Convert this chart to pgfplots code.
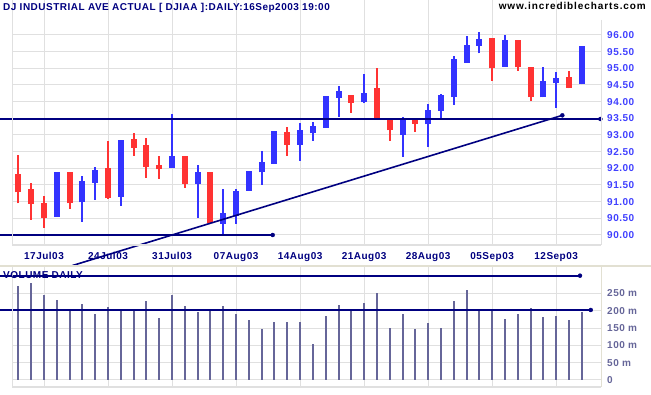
\documentclass[border=0pt]{standalone}
\usepackage{pgfplots}
\pgfplotsset{compat=1.18}
\usepackage{pgfplotstable}
\usepackage{fontspec}
\setmainfont{Liberation Sans}[LetterSpace=5]
\newfontfamily\wwwfont{Liberation Sans}[LetterSpace=9]
\definecolor{navy}{HTML}{000080}
\definecolor{cblue}{HTML}{3333FF}
\definecolor{cred}{HTML}{FF3333}
\definecolor{tickblue}{HTML}{4040FF}
\definecolor{volc}{HTML}{666699}
\definecolor{gridc}{HTML}{E0E0E0}
\definecolor{beige}{HTML}{E2E0D2}
\newcommand\lab{\fontsize{10bp}{12bp}\selectfont\bfseries}

% up days (close > open)
\pgfplotstableread{
i o h l c
3 90.55 91.89 90.55 91.89
5 90.98 91.77 90.40 91.63
6 91.57 92.04 91.05 91.96
8 91.15 92.85 90.88 92.85
12 92.02 93.63 92.02 92.38
14 91.53 92.10 90.52 91.90
16 90.33 91.38 90.00 90.65
17 90.58 91.38 90.34 91.33
18 91.33 91.92 91.33 91.92
19 91.88 92.52 91.51 92.20
20 92.13 93.12 92.13 93.12
22 92.70 93.36 92.23 93.14
23 93.05 93.39 92.83 93.27
24 93.22 94.17 93.22 94.17
25 94.11 94.47 93.55 94.33
27 93.98 94.83 93.95 94.25
30 93.01 93.53 92.35 93.46
32 93.32 93.93 92.65 93.75
33 93.72 94.23 93.48 94.20
34 94.13 95.37 93.91 95.27
35 95.17 95.97 95.17 95.70
36 95.68 96.09 95.45 95.88
38 95.05 96.00 95.05 95.85
41 94.13 95.03 94.13 94.62
42 94.55 94.88 93.82 94.70
44 94.52 95.68 94.52 95.68
}\upcandles

% down days (close < open)
\pgfplotstableread{
i o h l c
0 91.82 92.40 90.95 91.28
1 91.37 91.56 90.46 90.93
2 90.96 91.17 90.22 90.50
4 91.89 91.89 90.79 90.95
7 92.00 92.82 91.09 91.10
9 92.88 93.06 92.38 92.62
10 92.71 92.91 91.72 92.05
11 92.10 92.37 91.69 91.97
13 92.37 92.37 91.42 91.53
15 91.89 91.89 90.35 90.35
21 93.08 93.24 92.37 92.70
26 94.21 94.21 93.67 93.96
28 94.40 95.01 93.48 93.48
29 93.50 93.50 92.83 93.14
31 93.47 93.47 93.10 93.33
37 95.90 95.90 94.63 95.00
39 95.85 95.85 94.93 95.03
40 95.03 95.03 94.03 94.13
43 94.73 94.92 94.40 94.42
}\downcandles

% daily volume (millions)
\pgfplotstableread{
i v
0 271
1 281
2 246
3 231
4 206
5 220
6 190
7 211
8 202
9 206
10 228
11 179
12 246
13 213
14 196
15 202
16 213
17 190
18 173
19 147
20 168
21 168
22 168
23 104
24 185
25 216
26 206
27 223
28 251
29 150
30 190
31 147
32 164
33 150
34 228
35 260
36 206
37 202
38 176
39 190
40 208
41 182
42 185
43 173
44 196
}\volume

\pgfplotsset{
  candle/.style n args={2}{draw=none, mark=none,
    error bars/.cd, y dir=plus, y explicit, error mark=none,
    error bar style={line width=#2, draw=#1, solid}},
}

\begin{document}
\begin{tikzpicture}
\path[use as bounding box] (0,0) rectangle (651bp,395bp);
% price panel
\begin{axis}[
  at={(12bp,150bp)}, anchor=south west,
  scale only axis, width=589bp, height=245bp,
  xmin=-0.5, xmax=45.5, ymin=89.70, ymax=97.05,
  clip=false,
  axis line style={draw=none},
  tick style={draw=none},
  grid=major, major grid style={gridc, line width=1bp},
  xtick={2,7,12,17,22,27,32,37,42},
  xticklabels={17Jul03,24Jul03,31Jul03,07Aug03,14Aug03,21Aug03,28Aug03,05Sep03,12Sep03},
  xticklabel style={font=\lab, text=navy, anchor=base, inner sep=0pt, yshift=-14.3bp},
  ytick={90,90.5,91,91.5,92,92.5,93,93.5,94,94.5,95,95.5,96},
  yticklabel pos=right,
  yticklabel style={/pgf/number format/fixed, /pgf/number format/fixed zerofill,
    /pgf/number format/precision=2, /pgf/number format/assume math mode=true,
    font=\lab, text=tickblue, anchor=west, inner sep=0pt, xshift=6bp},
  after end axis/.code={
    \draw[gridc, line width=1bp] (rel axis cs:0,1) -- (rel axis cs:0,0);
    \draw[gridc, line width=1bp] (rel axis cs:1,0.92) -- (rel axis cs:1,0);
    \draw[gridc, line width=2bp] (rel axis cs:0,0) -- (rel axis cs:1,0);
  },
]
% wicks and bodies, up days
\addplot[candle={cblue}{2bp}]
  table[x=i, y=l, y error plus expr=\thisrow{h}-\thisrow{l}] {\upcandles};
\addplot[candle={cblue}{6bp}]
  table[x=i, y=o, y error plus expr=\thisrow{c}-\thisrow{o}] {\upcandles};
% wicks and bodies, down days
\addplot[candle={cred}{2bp}]
  table[x=i, y=l, y error plus expr=\thisrow{h}-\thisrow{l}] {\downcandles};
\addplot[candle={cred}{6bp}]
  table[x=i, y=c, y error plus expr=\thisrow{o}-\thisrow{c}] {\downcandles};
% support / trend lines
\addplot[navy, line width=2bp, mark=none] coordinates {(-1.44,93.48) (45.45,93.48)};
\addplot[navy, only marks, mark=*, mark size=2bp] coordinates {(45.45,93.48)};
\addplot[navy, line width=2bp, mark=none] coordinates {(-1.44,90.0) (19.86,90.0)};
\addplot[navy, only marks, mark=*, mark size=2bp] coordinates {(19.86,90.0)};
\addplot[navy, line width=1.6bp, mark=none] coordinates {(4.19,89.08) (42.48,93.59)};
\addplot[navy, only marks, mark=*, mark size=2bp] coordinates {(42.48,93.59)};
\end{axis}
% separator
\draw[beige, line width=2bp] (0,129bp) -- (651bp,129bp);
% volume panel
\begin{axis}[
  at={(12bp,8bp)}, anchor=south west,
  scale only axis, width=589bp, height=120bp,
  xmin=-0.5, xmax=45.5, ymin=-20.2, ymax=326,
  clip=false,
  axis line style={draw=none},
  tick style={draw=none},
  grid=major, major grid style={gridc, line width=1bp},
  xtick={2,7,12,17,22,27,32,37,42},
  xticklabels={},
  ytick={0,50,100,150,200,250},
  yticklabels={0,50 m,100 m,150 m,200 m,250 m},
  yticklabel pos=right,
  yticklabel style={font=\lab, text=volc, anchor=west, inner sep=0pt, xshift=6bp},
  after end axis/.code={
    \draw[gridc, line width=1bp] (rel axis cs:0,1) -- (rel axis cs:0,0);
    \draw[beige, line width=1bp] (rel axis cs:1,1) -- (rel axis cs:1,0);
    \draw[gridc, line width=2bp] (rel axis cs:0,0) -- (rel axis cs:1,0);
  },
]
\addplot[ycomb, volc, line width=2bp, mark=none] table[x=i, y=v] {\volume};
\addplot[navy, line width=2bp, mark=none] coordinates {(-1.44,301) (43.86,301)};
\addplot[navy, only marks, mark=*, mark size=2bp] coordinates {(43.86,301)};
\addplot[navy, line width=2bp, mark=none] coordinates {(-1.44,202) (44.70,202)};
\addplot[navy, only marks, mark=*, mark size=2bp] coordinates {(44.70,202)};
\end{axis}
% texts
\node[anchor=base west, inner sep=0pt, text=navy, font=\lab] at (3bp,384bp) {DJ INDUSTRIAL AVE ACTUAL [ DJIAA ]:DAILY:16Sep2003 19:00};
\node[anchor=base east, inner sep=0pt, text=black, font={\fontsize{10bp}{12bp}\selectfont\wwwfont\bfseries}] at (646bp,385bp) {www.incrediblecharts.com};
\node[anchor=base west, inner sep=0pt, text=navy, font=\lab] at (3bp,116bp) {VOLUME DAILY};
\end{tikzpicture}
\end{document}
